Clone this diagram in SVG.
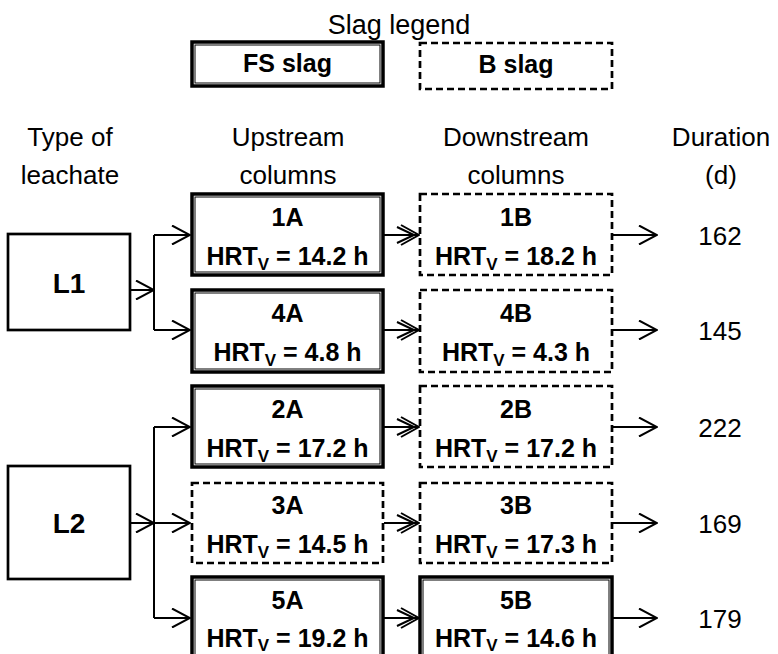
<svg xmlns="http://www.w3.org/2000/svg" width="778" height="654" viewBox="0 0 778 654">
<style>
text{font-family:"Liberation Sans",Arial,sans-serif;fill:#000}
.h{font-size:26px;text-anchor:middle}
.b{font-size:25px;font-weight:bold;text-anchor:middle}
.lb{font-size:28px;font-weight:bold;text-anchor:middle}
.sub{font-size:17px}
.plain{fill:#fff;stroke:#000;stroke-width:2.7}
.fsO{fill:#fff;stroke:#000;stroke-width:3.5}
.fsI{fill:none;stroke:#000;stroke-width:1}
.bs{fill:#fff;stroke:#000;stroke-width:2.7;stroke-dasharray:7 4}
.c{fill:none;stroke:#000;stroke-width:2}
</style>
<defs>
<marker id="open" viewBox="0 0 20 20" refX="19" refY="10" markerWidth="20" markerHeight="20" markerUnits="userSpaceOnUse" orient="auto">
<path d="M1,0.5 L19,10 L1,19.5" fill="none" stroke="#000" stroke-width="2"/>
</marker>
<marker id="dbl" viewBox="0 0 24 22" refX="23" refY="11" markerWidth="24" markerHeight="22" markerUnits="userSpaceOnUse" orient="auto">
<path d="M5,1 L23,11 L5,21 M1,3 L18,11 L1,19" fill="none" stroke="#000" stroke-width="2"/>
</marker>
</defs>

<text x="399" y="34" style="font-size:27px;text-anchor:middle">Slag legend</text>
<g id="legend-fs">
<rect class="fsO" x="192" y="42" width="191" height="44"/>
<rect class="fsI" x="195" y="45" width="185" height="38"/>
<text class="b" x="287.5" y="72">FS slag</text>
</g>
<g id="legend-b">
<rect class="bs" x="420" y="43" width="192" height="46"/>
<text class="b" x="516" y="73">B slag</text>
</g>

<g id="headers">
<text class="h" x="70" y="146">Type of</text>
<text class="h" x="70" y="184">leachate</text>
<text class="h" x="288" y="146">Upstream</text>
<text class="h" x="288" y="184">columns</text>
<text class="h" x="516" y="146">Downstream</text>
<text class="h" x="516" y="184">columns</text>
<text class="h" x="721" y="146">Duration</text>
<text class="h" x="721" y="184">(d)</text>
</g>

<g id="L1">
<rect class="plain" x="8" y="234" width="122" height="96"/>
<text class="lb" x="69" y="293">L1</text>
</g>
<g id="L2">
<rect class="plain" x="8" y="466" width="122" height="113"/>
<text class="lb" x="69" y="533">L2</text>
</g>

<g id="n1A">
<rect class="fsO" x="192" y="194" width="191" height="81"/>
<rect class="fsI" x="195" y="197" width="185" height="75"/>
<text class="b" x="287.5" y="226">1A</text>
<text class="b" x="287.5" y="265">HRT<tspan class="sub" dy="5">V</tspan><tspan dy="-5"> = 14.2 h</tspan></text>
</g>
<g id="n1B">
<rect class="bs" x="420" y="194" width="192" height="81"/>
<text class="b" x="516" y="226">1B</text>
<text class="b" x="516" y="265">HRT<tspan class="sub" dy="5">V</tspan><tspan dy="-5"> = 18.2 h</tspan></text>
</g>
<g id="n4A">
<rect class="fsO" x="192" y="290" width="191" height="82"/>
<rect class="fsI" x="195" y="293" width="185" height="76"/>
<text class="b" x="287.5" y="322">4A</text>
<text class="b" x="287.5" y="361">HRT<tspan class="sub" dy="5">V</tspan><tspan dy="-5"> = 4.8 h</tspan></text>
</g>
<g id="n4B">
<rect class="bs" x="420" y="290" width="192" height="82"/>
<text class="b" x="516" y="322">4B</text>
<text class="b" x="516" y="361">HRT<tspan class="sub" dy="5">V</tspan><tspan dy="-5"> = 4.3 h</tspan></text>
</g>
<g id="n2A">
<rect class="fsO" x="192" y="386" width="191" height="81"/>
<rect class="fsI" x="195" y="389" width="185" height="75"/>
<text class="b" x="287.5" y="418">2A</text>
<text class="b" x="287.5" y="457">HRT<tspan class="sub" dy="5">V</tspan><tspan dy="-5"> = 17.2 h</tspan></text>
</g>
<g id="n2B">
<rect class="bs" x="420" y="386" width="192" height="81"/>
<text class="b" x="516" y="418">2B</text>
<text class="b" x="516" y="457">HRT<tspan class="sub" dy="5">V</tspan><tspan dy="-5"> = 17.2 h</tspan></text>
</g>
<g id="n3A">
<rect class="bs" x="192" y="483" width="191" height="80"/>
<text class="b" x="287.5" y="514">3A</text>
<text class="b" x="287.5" y="553">HRT<tspan class="sub" dy="5">V</tspan><tspan dy="-5"> = 14.5 h</tspan></text>
</g>
<g id="n3B">
<rect class="bs" x="420" y="483" width="192" height="80"/>
<text class="b" x="516" y="514">3B</text>
<text class="b" x="516" y="553">HRT<tspan class="sub" dy="5">V</tspan><tspan dy="-5"> = 17.3 h</tspan></text>
</g>
<g id="n5A">
<rect class="fsO" x="192" y="577" width="191" height="81"/>
<rect class="fsI" x="195" y="580" width="185" height="75"/>
<text class="b" x="287.5" y="609">5A</text>
<text class="b" x="287.5" y="647">HRT<tspan class="sub" dy="4">V</tspan><tspan dy="-4"> = 19.2 h</tspan></text>
</g>
<g id="n5B">
<rect class="fsO" x="420" y="577" width="192" height="81"/>
<rect class="fsI" x="423" y="580" width="186" height="75"/>
<text class="b" x="516" y="609">5B</text>
<text class="b" x="516" y="647">HRT<tspan class="sub" dy="4">V</tspan><tspan dy="-4"> = 14.6 h</tspan></text>
</g>

<g id="durations">
<text class="h" x="720" y="245">162</text>
<text class="h" x="720" y="340">145</text>
<text class="h" x="720" y="437">222</text>
<text class="h" x="720" y="533">169</text>
<text class="h" x="720" y="628">179</text>
</g>

<g id="connectors">
<path class="c" d="M130,290 H154" marker-end="url(#open)"/>
<path class="c" d="M154,235 V330"/>
<path class="c" d="M154,235 H190" marker-end="url(#open)"/>
<path class="c" d="M154,330 H190" marker-end="url(#open)"/>
<path class="c" d="M130,523 H154" marker-end="url(#open)"/>
<path class="c" d="M154,427 V618"/>
<path class="c" d="M154,427 H190" marker-end="url(#open)"/>
<path class="c" d="M154,523 H190" marker-end="url(#open)"/>
<path class="c" d="M154,618 H190" marker-end="url(#open)"/>
<path class="c" d="M384,235 H419" marker-end="url(#dbl)"/>
<path class="c" d="M384,330 H419" marker-end="url(#dbl)"/>
<path class="c" d="M384,427 H419" marker-end="url(#dbl)"/>
<path class="c" d="M384,523 H419" marker-end="url(#dbl)"/>
<path class="c" d="M384,618 H419" marker-end="url(#dbl)"/>
<path class="c" d="M613,235 H657" marker-end="url(#open)"/>
<path class="c" d="M613,330 H657" marker-end="url(#open)"/>
<path class="c" d="M613,427 H657" marker-end="url(#open)"/>
<path class="c" d="M613,523 H657" marker-end="url(#open)"/>
<path class="c" d="M613,618 H657" marker-end="url(#open)"/>
</g>
</svg>
